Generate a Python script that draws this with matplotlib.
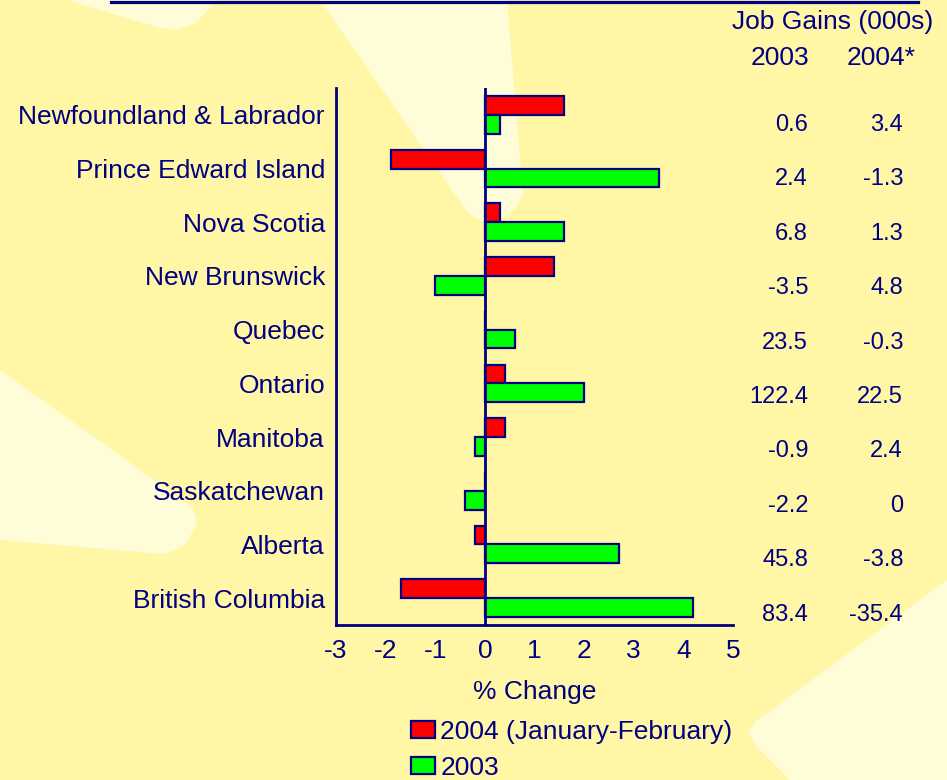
import matplotlib
matplotlib.use("Agg")
import matplotlib.pyplot as plt
from matplotlib.patches import Polygon
from matplotlib.lines import Line2D
import numpy as np

# data
provinces = ["Newfoundland & Labrador", "Prince Edward Island", "Nova Scotia",
             "New Brunswick", "Quebec", "Ontario", "Manitoba", "Saskatchewan",
             "Alberta", "British Columbia"]
pct_2004 = [1.6, -1.9, 0.3, 1.4, 0.0, 0.4, 0.4, 0.0, -0.2, -1.7]
pct_2003 = [0.3, 3.5, 1.6, -1.0, 0.6, 2.0, -0.2, -0.4, 2.7, 4.2]
gains_2003 = [0.6, 2.4, 6.8, -3.5, 23.5, 122.4, -0.9, -2.2, 45.8, 83.4]
gains_2004 = [3.4, -1.3, 1.3, 4.8, -0.3, 22.5, 2.4, 0, -3.8, -35.4]
xticks = [-3, -2, -1, 0, 1, 2, 3, 4, 5]

NAVY = "#000080"
BG = "#FFF6A6"
LIGHT = "#FFFDD8"

plt.rcParams["font.family"] = ["Liberation Sans", "DejaVu Sans"]

W, H = 947, 780
fig = plt.figure(figsize=(W / 100, H / 100), dpi=100, facecolor=BG)


def px(pts):
    return [(x / W, 1 - y / H) for x, y in pts]


# background decoration
shapes = [
    [(67, 0), (160, 28), (176, 30), (196, 23), (208, 10), (216, 0)],
    [(320, 0), (468, 213), (482, 222), (500, 221), (515, 209), (523, 195), (507, 0)],
    [(0, 370), (192, 507), (197, 523), (187, 542), (177, 550), (163, 554), (0, 540)],
    [(947, 580), (755, 722), (748, 732), (755, 745), (790, 780), (947, 780)],
]
for s in shapes:
    fig.add_artist(Polygon(px(s), closed=True, transform=fig.transFigure,
                           facecolor=LIGHT, edgecolor="none", zorder=0))

# top rule
fig.add_artist(Line2D([111 / W, 918 / W], [1 - 1.5 / H] * 2, color=NAVY,
                      lw=2.3, transform=fig.transFigure))

ax = fig.add_axes([336 / W, 1 - 625 / H, (733 - 336) / W, (625 - 88) / H])
ax.set_facecolor("none")

y = np.arange(len(provinces))
h = 0.35
b1 = ax.barh(y - h / 2, pct_2004, height=h, color="#FF0000", edgecolor=NAVY,
             linewidth=1.6, label="2004 (January-February)", zorder=3)
b2 = ax.barh(y + h / 2, pct_2003, height=h, color="#00FF00", edgecolor=NAVY,
             linewidth=1.6, label="2003", zorder=3)
ax.axvline(0, color=NAVY, lw=2, zorder=4)

ax.set_xlim(-3, 5)
ax.set_ylim(len(provinces) - 0.5, -0.5)
ax.set_xticks(xticks)
ax.set_xticklabels([str(t) for t in xticks])
ax.set_yticks(y)
ax.set_yticklabels(provinces)
ax.tick_params(axis="x", length=0, pad=10, labelsize=19, labelcolor=NAVY)
ax.tick_params(axis="y", length=0, pad=8, labelsize=19, labelcolor=NAVY)
for side in ["top", "right"]:
    ax.spines[side].set_visible(False)
for side in ["left", "bottom"]:
    ax.spines[side].set_color(NAVY)
    ax.spines[side].set_linewidth(2)
ax.set_xlabel("% Change", fontsize=19, color=NAVY, labelpad=12)

leg = ax.legend(handles=[b1, b2], loc="upper left",
                bbox_to_anchor=(411 / W, 1 - 720 / H),
                bbox_transform=fig.transFigure, frameon=False, fontsize=19,
                handlelength=0.91, handleheight=0.6, handletextpad=0.2,
                labelspacing=0.45, borderpad=0, borderaxespad=0)
for t in leg.get_texts():
    t.set_color(NAVY)

# job gains table
fig.text(833 / W, 1 - 22 / H, "Job Gains (000s)", ha="center", va="center",
         fontsize=19, color=NAVY)
fig.text(780 / W, 1 - 58 / H, "2003", ha="center", va="center",
         fontsize=19, color=NAVY)
fig.text(881 / W, 1 - 58 / H, "2004*", ha="center", va="center",
         fontsize=19, color=NAVY)
row0, pitch = 125, 54.4
for i in range(len(provinces)):
    yy = 1 - (row0 + pitch * i) / H
    fig.text(808 / W, yy, "%g" % gains_2003[i], ha="right", va="center",
             fontsize=17, color=NAVY)
    fig.text(903 / W, yy, "%g" % gains_2004[i], ha="right", va="center",
             fontsize=17, color=NAVY)

fig.savefig("out.png", dpi=100, facecolor=BG)
